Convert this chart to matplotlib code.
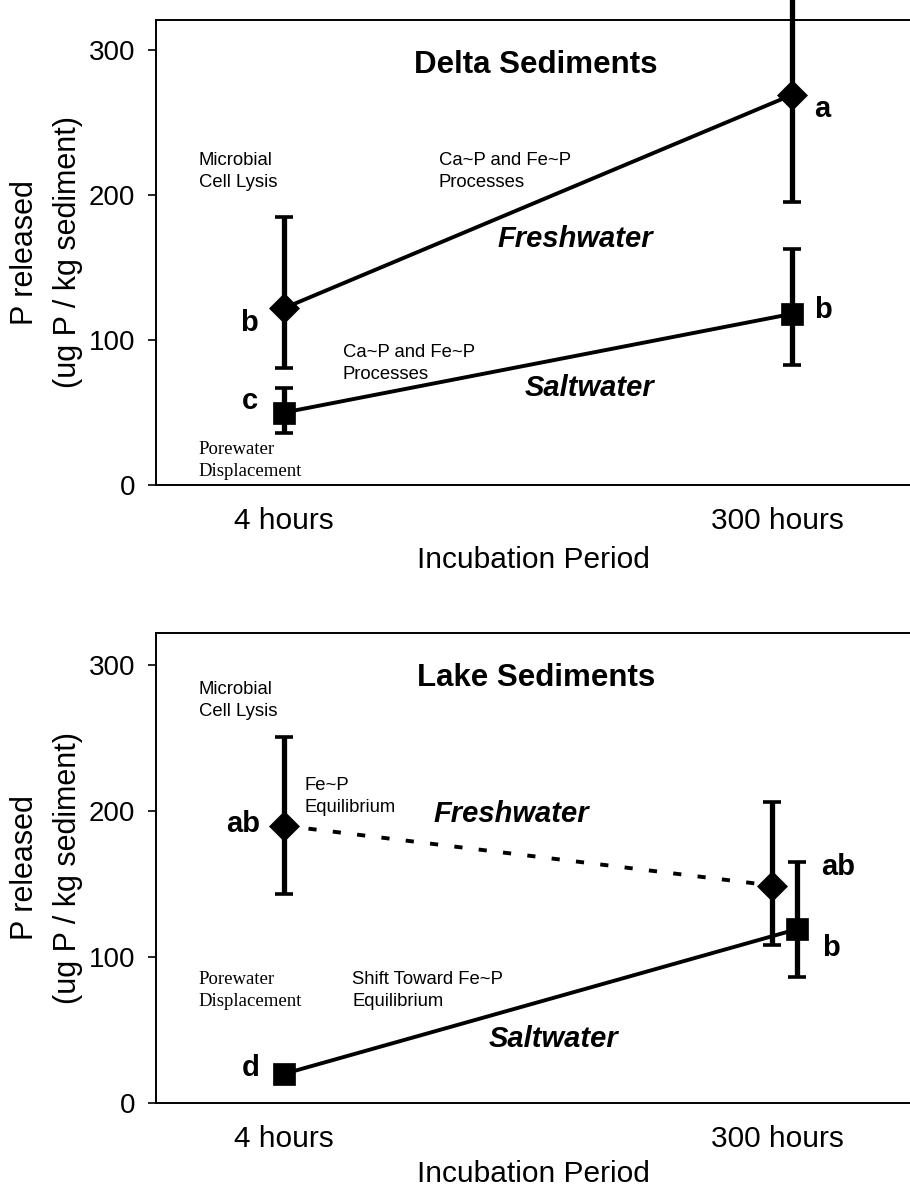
import numpy as np
import matplotlib
matplotlib.use('Agg')
import matplotlib.pyplot as plt

plt.rcParams['font.family'] = ['Liberation Sans', 'DejaVu Sans']

# categories
periods = ['4 hours', '300 hours']

# Delta sediments (ug P / kg sediment)
delta_fresh = [122, 269]
delta_fresh_lo = [81, 195]
delta_fresh_hi = [185, 340]
delta_salt = [50, 118]
delta_salt_lo = [36, 83]
delta_salt_hi = [67, 163]

# Lake sediments
lake_fresh = [190, 149]
lake_fresh_lo = [143, 108]
lake_fresh_hi = [251, 206]
lake_salt = [20, 119]
lake_salt_lo = [15, 86]
lake_salt_hi = [25, 165]

# significance letters (fresh, salt) per period
delta_letters_fresh = ['b', 'a']
delta_letters_salt = ['c', 'b']
lake_letters_fresh = ['ab', 'ab']
lake_letters_salt = ['d', 'b']

fig = plt.figure(figsize=(9.1, 11.88), dpi=100)
ax1 = fig.add_axes([156 / 910, 1 - 485 / 1188, 754 / 910, 465 / 1188])
ax2 = fig.add_axes([156 / 910, 1 - 1103 / 1188, 754 / 910, 470 / 1188])

SERIF = ['Liberation Serif', 'DejaVu Serif']
NOTE = dict(fontsize=13.3, ha='left', va='center', linespacing=1.4)
BOLD = dict(fontsize=21, fontweight='bold', ha='center', va='center')
WATER = dict(fontsize=21, fontweight='bold', style='italic', ha='center', va='center')


def draw_series(ax, xs, y, lo, hi, marker, ms, dashes=None):
    y = np.array(y, dtype=float)
    err = [y - np.array(lo), np.array(hi) - y]
    ax.errorbar(xs, y, yerr=err, fmt='none', ecolor='black', elinewidth=3.8,
                capsize=6.5, capthick=2.6, clip_on=False, zorder=3)
    line, = ax.plot(xs, y, color='black', lw=2.8, zorder=2, solid_capstyle='butt')
    if dashes is not None:
        line.set_dashes(dashes)
    ax.plot(xs, y, ls='none', marker=marker, ms=ms, color='black', mew=0.5,
            zorder=4, clip_on=False)


def style_axes(ax, ymax, xlabelpad):
    ax.set_xlim(-0.26, 1.27)
    ax.set_ylim(0, ymax)
    ax.set_yticks([0, 100, 200, 300])
    ax.set_xticks([0, 1])
    ax.set_xticklabels(periods)
    ax.spines['right'].set_visible(False)
    for s in ['left', 'bottom', 'top']:
        ax.spines[s].set_linewidth(1.4)
    ax.tick_params(axis='y', direction='out', length=6, width=1.2, pad=9,
                   labelsize=20)
    ax.tick_params(axis='x', length=0, pad=16, labelsize=21.5)
    ax.set_xlabel('Incubation Period', fontsize=21.5, labelpad=xlabelpad)
    ax.set_ylabel('P released\n(ug P / kg sediment)', fontsize=22,
                  labelpad=4, linespacing=1.55)


# ---- top: Delta sediments ----
style_axes(ax1, 320.7, 8)
draw_series(ax1, [0, 1.03], delta_fresh, delta_fresh_lo, delta_fresh_hi, 'D', 15)
draw_series(ax1, [0, 1.03], delta_salt, delta_salt_lo, delta_salt_hi, 's', 16)

ax1.text(0.51, 290, 'Delta Sediments', fontsize=22.5, fontweight='bold',
         ha='center', va='center')
ax1.text(-0.173, 216, 'Microbial\nCell Lysis', **NOTE)
ax1.text(0.314, 216, 'Ca~P and Fe~P\nProcesses', **NOTE)
ax1.text(0.119, 84, 'Ca~P and Fe~P\nProcesses', **NOTE)
ax1.text(-0.173, 17, 'Porewater\nDisplacement', fontsize=13.5, family=SERIF,
         ha='left', va='center', linespacing=1.35)
ax1.text(0.59, 170, 'Freshwater', **WATER)
ax1.text(0.62, 67, 'Saltwater', **WATER)
ax1.text(1.091, 259, delta_letters_fresh[1], **BOLD)
ax1.text(1.093, 121, delta_letters_salt[1], **BOLD)
ax1.text(-0.071, 112, delta_letters_fresh[0], **BOLD)
ax1.text(-0.069, 58, delta_letters_salt[0], **BOLD)

# ---- bottom: Lake sediments ----
style_axes(ax2, 322, 5)
draw_series(ax2, [0, 0.99], lake_fresh, lake_fresh_lo, lake_fresh_hi, 'D', 15,
            dashes=(2.1, 4.2))
draw_series(ax2, [0, 1.04], lake_salt, lake_salt_lo, lake_salt_hi, 's', 16)

ax2.text(0.511, 291, 'Lake Sediments', fontsize=22.5, fontweight='bold',
         ha='center', va='center')
ax2.text(-0.173, 276, 'Microbial\nCell Lysis', **NOTE)
ax2.text(0.042, 210, 'Fe~P\nEquilibrium', **NOTE)
ax2.text(0.46, 198, 'Freshwater', **WATER)
ax2.text(-0.0835, 191, lake_letters_fresh[0], **BOLD)
ax2.text(1.124, 162, lake_letters_fresh[1], **BOLD)
ax2.text(1.11, 106, lake_letters_salt[1], **BOLD)
ax2.text(-0.067, 24, lake_letters_salt[0], **BOLD)
ax2.text(-0.173, 77, 'Porewater\nDisplacement', fontsize=13.5, family=SERIF,
         ha='left', va='center', linespacing=1.35)
ax2.text(0.138, 77, 'Shift Toward Fe~P\nEquilibrium', **NOTE)
ax2.text(0.546, 44, 'Saltwater', **WATER)

fig.savefig('out.png', dpi=100)
